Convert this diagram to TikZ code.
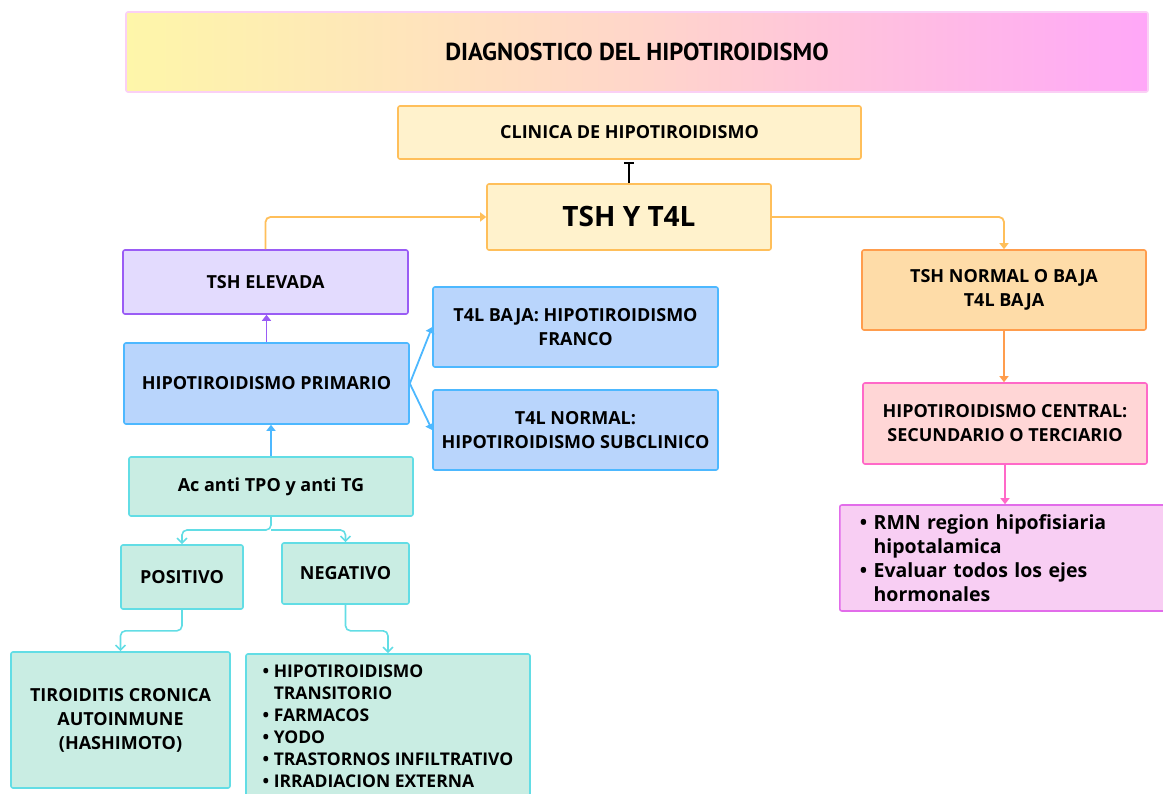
\documentclass[tikz,border=0pt]{standalone}
\usepackage{fontspec}
\setmainfont{Open Sans}
\newfontfamily\titlefont{PT Sans}
\usetikzlibrary{arrows.meta,positioning}
\definecolor{crema}{HTML}{FFF2CC}
\definecolor{naranja}{HTML}{FFBF5A}
\definecolor{lila}{HTML}{E3DBFE}
\definecolor{morado}{HTML}{9A5CF5}
\definecolor{celeste}{HTML}{B9D5FC}
\definecolor{azul}{HTML}{4DB8FF}
\definecolor{menta}{HTML}{C9EDE3}
\definecolor{turquesa}{HTML}{62DDE5}
\definecolor{durazno}{HTML}{FEDCA8}
\definecolor{anaranjado}{HTML}{FF9D4D}
\definecolor{salmon}{HTML}{FFD6D6}
\definecolor{rosa}{HTML}{FF69C8}
\definecolor{orquidea}{HTML}{F8CEF3}
\definecolor{magenta}{HTML}{E26CEA}
\definecolor{bordetitulo}{HTML}{FAD0F5}

\begin{document}
\begin{tikzpicture}[x=1pt,y=-1pt,
caja/.style={draw, rounded corners=2pt, line width=1.6pt, align=center, inner sep=0pt,
    font=\bfseries\fontsize{18}{24}\selectfont},
lista/.style={caja, align=left, inner ysep=0pt, inner xsep=20pt},
flecha/.style={line width=1.8pt, rounded corners=5pt, -{Triangle[length=6pt,width=9pt]}},
abierta/.style={line width=1.6pt, rounded corners=5pt, -{Straight Barb[length=5pt,width=10pt]}}]

\useasboundingbox (0,0) rectangle (1163,794);

\node[draw=bordetitulo, line width=1.6pt, rounded corners=2pt, left color={rgb,255:red,254;green,246;blue,169},
  right color={rgb,255:red,255;green,167;blue,248}, middle color={rgb,255:red,255;green,214;blue,202},
  minimum width=1022pt, minimum height=80pt, font=\titlefont\bfseries\fontsize{24.5}{28}\selectfont]
  (titulo) at (637,52) {DIAGNOSTICO DEL HIPOTIROIDISMO};

\node[caja, fill=crema, draw=naranja, minimum width=463pt, minimum height=53pt] (clinica) at (629.5,132.5) {CLINICA DE HIPOTIROIDISMO};
\node[caja, fill=crema, draw=naranja, minimum width=284pt, minimum height=66pt, font=\bfseries\fontsize{28}{32}\selectfont] (tsh) at (629,217) {TSH Y T4L};

\node[caja, fill=lila, draw=morado, minimum width=285pt, minimum height=64pt] (elevada) at (265.5,282) {TSH ELEVADA};
\node[caja, fill=celeste, draw=azul, minimum width=285pt, minimum height=81pt] (primario) at (266.5,383.5) {HIPOTIROIDISMO PRIMARIO};
\node[caja, fill=celeste, draw=azul, minimum width=285pt, minimum height=80pt] (baja) at (575.5,327) {T4L BAJA: HIPOTIROIDISMO\\FRANCO};
\node[caja, fill=celeste, draw=azul, minimum width=285pt, minimum height=80pt] (normal) at (575.5,430) {T4L NORMAL:\\HIPOTIROIDISMO SUBCLINICO};

\node[caja, fill=menta, draw=turquesa, minimum width=284pt, minimum height=59pt] (anticuerpos) at (271,486.5) {Ac anti TPO y anti TG};
\node[caja, fill=menta, draw=turquesa, minimum width=122pt, minimum height=64pt] (positivo) at (182,577) {POSITIVO};
\node[caja, fill=menta, draw=turquesa, minimum width=127pt, minimum height=61pt] (negativo) at (345.5,573.5) {NEGATIVO};
\node[caja, fill=menta, draw=turquesa, minimum width=219pt, minimum height=136pt] (tiroiditis) at (120.5,720) {TIROIDITIS CRONICA\\AUTOINMUNE\\(HASHIMOTO)};
\node[lista, inner xsep=12pt, fill=menta, draw=turquesa, minimum width=284pt, minimum height=145pt, font=\bfseries\fontsize{17.5}{22}\selectfont] (causas) at (388,726.5)
  {\textbullet\ HIPOTIROIDISMO\\\phantom{\textbullet\ }TRANSITORIO\\\textbullet\ FARMACOS\\\textbullet\ YODO\\\textbullet\ TRASTORNOS INFILTRATIVO\\\textbullet\ IRRADIACION EXTERNA};

\node[caja, fill=durazno, draw=anaranjado, minimum width=284pt, minimum height=80pt] (tshbaja) at (1004,290) {TSH NORMAL O BAJA\\T4L BAJA};
\node[caja, fill=salmon, draw=rosa, minimum width=284pt, minimum height=81pt] (central) at (1005,423.5) {HIPOTIROIDISMO CENTRAL:\\SECUNDARIO O TERCIARIO};
\node[lista, fill=orquidea, draw=magenta, text width=290pt, minimum height=106pt, anchor=west, font=\bfseries\fontsize{19.5}{24}\selectfont] (rmn) at (839,558)
  {\textbullet\ RMN region hipofisiaria\\\phantom{\textbullet\ }hipotalamica\\\textbullet\ Evaluar todos los ejes\\\phantom{\textbullet\ }hormonales};

% conectores
\draw[line width=2.2pt, -{Bar[width=10pt,line width=2.2pt]}, shorten >=2pt] (tsh.north) -- (tsh.north |- clinica.south);
\draw[flecha, naranja] (elevada.north) |- (tsh.west);
\draw[flecha, naranja] (tsh.east) -| (tshbaja.north);
\draw[flecha, morado] (primario.north) -- (primario.north |- elevada.south);
\draw[flecha, azul] (primario.east) -- (baja.west);
\draw[flecha, azul] (primario.east) -- (normal.west);
\draw[flecha, azul] (anticuerpos.north) -- (anticuerpos.north |- primario.south);
\coordinate (rama) at (271,530);
\draw[abierta, turquesa] (anticuerpos.south) -- (rama) -| (positivo.north);
\draw[abierta, turquesa] (rama) -| (negativo.north);
\draw[abierta, turquesa] (positivo.south) -- ++(0,21) -| (tiroiditis.north);
\draw[abierta, turquesa] (negativo.south) -- ++(0,26) -| (causas.north);
\draw[flecha, anaranjado] (tshbaja.south) -- (tshbaja.south |- central.north);
\draw[flecha, rosa] (central.south) -- (central.south |- rmn.north);
\end{tikzpicture}
\end{document}
